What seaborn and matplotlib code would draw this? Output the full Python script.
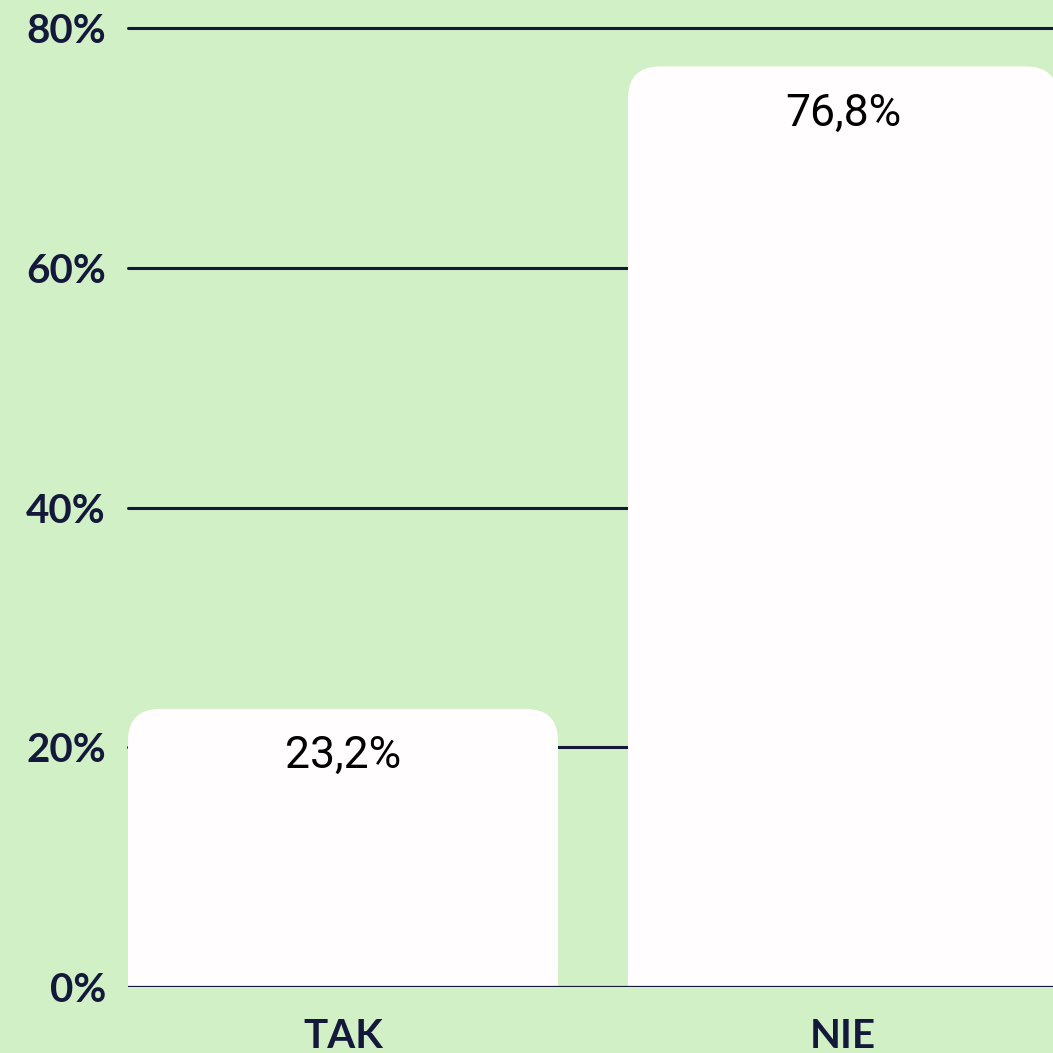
import matplotlib
matplotlib.use("Agg")
import matplotlib.pyplot as plt
import numpy as np
import pandas as pd
import seaborn as sns
from matplotlib.patches import FancyBboxPatch, Rectangle

categories = ["TAK", "NIE"]
values = [23.2, 76.8]
value_labels = ["23,2%", "76,8%"]
y_ticks = [0, 20, 40, 60, 80]
y_tick_labels = ["0%", "20%", "40%", "60%", "80%"]

BG = "#D1F0C5"
NAVY = "#14183A"
BAR = "#FFFDFD"

df = pd.DataFrame({"category": categories, "value": values})

sns.set_theme(style="white")
plt.rcParams["font.family"] = ["Lato", "DejaVu Sans"]

fig = plt.figure(figsize=(10.53, 10.53), dpi=100, facecolor=BG)
ax = fig.add_axes([128 / 1053, 66 / 1053, 1 - 128 / 1053, 987 / 1053])
ax.set_facecolor(BG)

sns.barplot(data=df, x="category", y="value", width=0.86, color=BAR,
            saturation=1, ax=ax, zorder=2)

ax.set_xlim(-0.43, 1.42)
ax.set_ylim(0, 82.34)

# px per data unit, for round corners that look circular
px_x = 500.0
px_y = 959 / 80
r_px = 32
rx = r_px / px_x
aspect = px_x / px_y

for p in list(ax.patches):
    x0, w, h = p.get_x(), p.get_width(), p.get_height()
    p.set_visible(False)
    ax.add_patch(FancyBboxPatch((x0, 0), w, h,
                                boxstyle=f"round,pad=0,rounding_size={rx}",
                                mutation_aspect=aspect, fc=BAR, ec="none",
                                zorder=2))
    ax.add_patch(Rectangle((x0, 0), w, h - r_px / px_y, fc=BAR, ec="none",
                           zorder=2))

for i, (v, lab) in enumerate(zip(values, value_labels)):
    ax.annotate(lab, (i, v), xytext=(0, -19), textcoords="offset points",
                ha="center", va="top", fontsize=32, color="black",
                family=["Roboto", "DejaVu Sans"], zorder=4)

for t in y_ticks[1:]:
    ax.axhline(t, color=NAVY, lw=2.2, zorder=1, clip_on=False)
ax.axhline(0, color=NAVY, lw=1.6, zorder=3)

ax.set_yticks(y_ticks)
ax.set_yticklabels(y_tick_labels)
ax.tick_params(axis="y", length=0, pad=16, labelsize=29, labelcolor=NAVY)
ax.tick_params(axis="x", length=0, pad=22, labelsize=29, labelcolor=NAVY)
for lab in ax.get_yticklabels() + ax.get_xticklabels():
    lab.set_fontweight("bold")

ax.set_xlabel("")
ax.set_ylabel("")
sns.despine(ax=ax, left=True, bottom=True)
ax.grid(False)

fig.savefig("out.png", dpi=100, facecolor=BG)
